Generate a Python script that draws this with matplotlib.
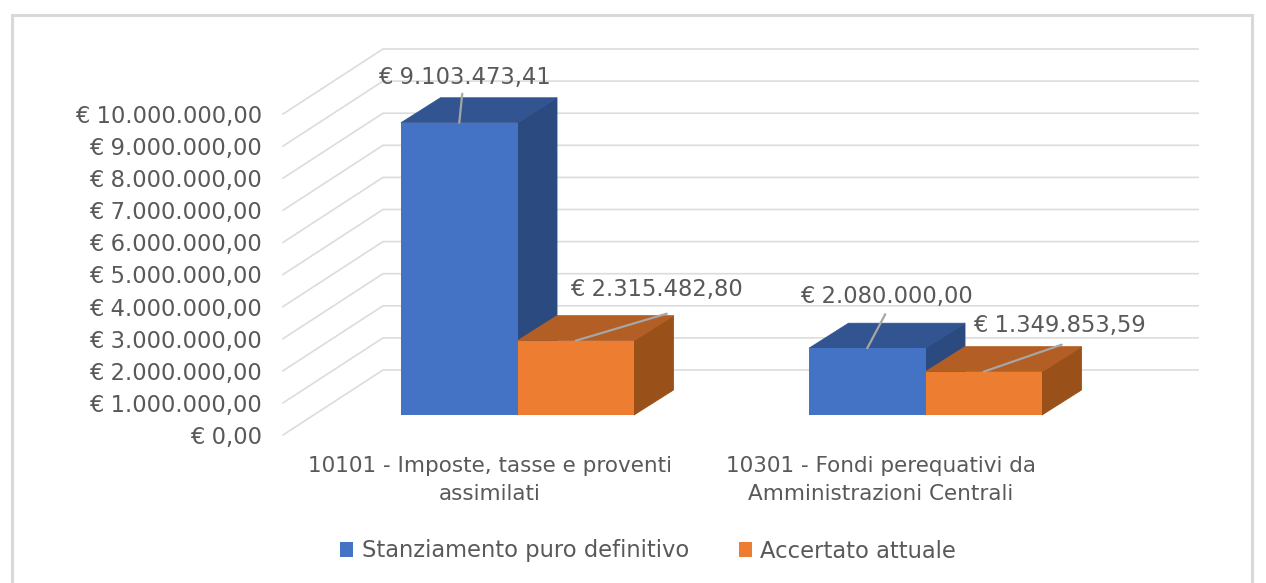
import matplotlib
matplotlib.use("Agg")
import matplotlib.pyplot as plt
from matplotlib.patches import Rectangle

categories = ["10101 - Imposte, tasse e proventi\nassimilati",
              "10301 - Fondi perequativi da\nAmministrazioni Centrali"]
series_names = ["Stanziamento puro definitivo", "Accertato attuale"]
stanziamento = [9103473.41, 2080000.00]
accertato = [2315482.80, 1349853.59]
y_ticks = [0, 1000000, 2000000, 3000000, 4000000, 5000000,
           6000000, 7000000, 8000000, 9000000, 10000000]

plt.rcParams['font.family'] = ['DejaVu Sans']
TXT = "#595959"
W, H = 1266, 583

# scale of the picture: pixels per category and pixels per euro
PX_CAT = 408.0
PX_EUR = 32.1 / 1e6


def euro_label(v):
    s = f"{v:,.2f}".replace(",", "#").replace(".", ",").replace("#", ".")
    return "€ " + s


def px_x(p):
    return p / PX_CAT


def px_y(p):
    return p / PX_EUR


fig = plt.figure(figsize=(W / 100, H / 100), dpi=100, facecolor="white")
fig.add_artist(Rectangle((12 / W, -0.02), 1240 / W, 1.02 - 15 / H, transform=fig.transFigure,
                         fill=False, edgecolor="#d9d9d9", linewidth=2.2))

# axes box runs from the front left corner of the floor to the top right of the back wall
ax = fig.add_axes([283 / W, 1 - 435 / H, (1198 - 283) / W, (435 - 49) / H])
ax.set_xlim(px_x(283 - 517.5), px_x(1198 - 517.5))
ax.set_ylim(px_y(-20), px_y(366))
ax.patch.set_alpha(0)
for s in ax.spines.values():
    s.set_visible(False)

# walls
x_left = px_x(283 - 517.5)
x_back = px_x(383 - 517.5)
x_right = px_x(1198 - 517.5)
for v in y_ticks:
    ax.plot([x_left, x_back, x_right], [v + px_y(-20), v + px_y(45), v + px_y(45)],
            color="#dcdcdc", lw=1.2, zorder=1, clip_on=False)

ax.set_yticks([v + px_y(-20) for v in y_ticks])
ax.set_yticklabels([euro_label(v) for v in y_ticks], fontsize=16.3, color=TXT)
ax.tick_params(axis="y", length=0, pad=15)
ax.set_xticks([px_x(490 - 517.5), px_x(881 - 517.5)])
ax.set_xticklabels(categories, fontsize=15.5, color=TXT, linespacing=1.5)
ax.tick_params(axis="x", length=0, pad=15)

# bars with their depth faces
width = px_x(116.5)
dx = px_x(39.5)
dy = px_y(25)
faces = [("#4472C4", "#325591", "#2A4A80"), ("#ED7D31", "#B25E24", "#9A5119")]
bars = []
for j, vals in enumerate([stanziamento, accertato]):
    front, top, side = faces[j]
    for i, v in enumerate(vals):
        left = i - width + j * width
        right = left + width
        z = 3 + j
        ax.fill([right, right + dx, right + dx, right], [0, dy, v + dy, v], color=side, lw=0.6, zorder=z)
        ax.fill([left, left + dx, right + dx, right], [v, v + dy, v + dy, v], color=top, lw=0.6, zorder=z)
    xs = [i - width + j * width for i in range(len(vals))]
    bars.append(ax.bar(xs, vals, width=width, align="edge", color=front, zorder=3 + j))

# data labels with leader lines, offsets in pixels from the top of each front face
leaders = [[(3, 29), (18, 34)], [(91, 27), (78, 27)]]
label_offsets = [[(5, 45), (19, 52)], [(81, 51), (76, 46)]]
for j, vals in enumerate([stanziamento, accertato]):
    for i, v in enumerate(vals):
        cx = i - width + j * width + width / 2
        ax.annotate("", xy=(cx, v), xytext=leaders[j][i], textcoords="offset pixels",
                    arrowprops=dict(arrowstyle="-", color="#a6a6a6", lw=1.6, shrinkA=0, shrinkB=0),
                    zorder=8)
        ax.annotate(euro_label(v), xy=(cx, v), xytext=label_offsets[j][i], textcoords="offset pixels",
                    ha="center", va="center", fontsize=16.3, color=TXT, zorder=9)

fig.legend([b[0] for b in bars], series_names, loc="center", bbox_to_anchor=(648 / W, 1 - 551 / H),
           ncol=2, frameon=False, fontsize=16.3, labelcolor=TXT, handlelength=0.58, handleheight=0.58,
           handletextpad=0.36, columnspacing=2.2)

fig.savefig("out.png", dpi=100)
